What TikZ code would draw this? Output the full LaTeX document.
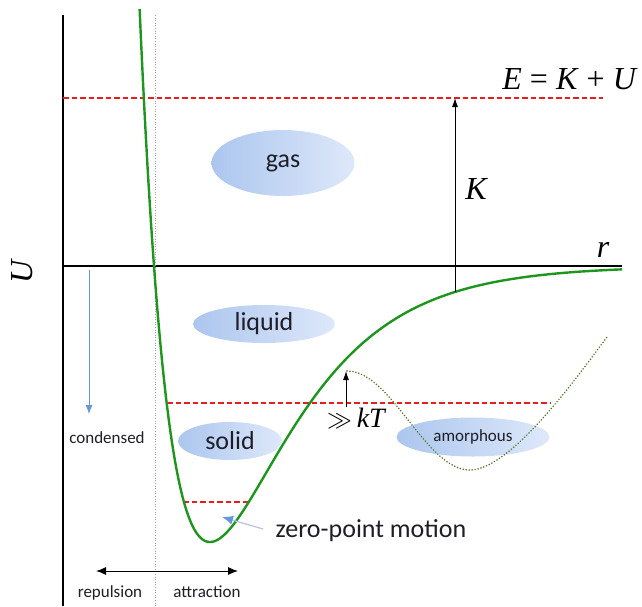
\documentclass[tikz,border=0pt]{standalone}
\usepackage{fontspec}
\setmainfont{Carlito}
\newfontfamily\tms{Liberation Serif}
\usetikzlibrary{arrows.meta,shapes.geometric}
\definecolor{gcurve}{RGB}{30,150,30}
\definecolor{rdash}{RGB}{232,30,30}
\definecolor{olivedot}{RGB}{85,110,35}
\definecolor{bllight}{RGB}{222,232,250}
\definecolor{bldark}{RGB}{172,198,238}
\definecolor{arrblue}{RGB}{100,150,220}
\definecolor{arrline}{RGB}{180,196,226}
\definecolor{txt}{RGB}{30,30,40}
\begin{document}
\begin{tikzpicture}[x=1pt,y=-1pt,
  declare function={mo(\x)=1-exp(-0.01238*(\x-210)); pot(\x)=266-276*(mo(\x)*mo(\x)-1);},
  axis/.style={line width=1.3pt,black},
  reddash/.style={rdash,line width=1.8pt,dash pattern=on 5.5pt off 3pt},
  blob/.style={ellipse,inner sep=0pt,left color=bldark,right color=bllight,draw=none,text=txt},
  big/.style={font=\fontsize{26}{30}\selectfont,text=txt},
  small/.style={font=\fontsize{17}{20}\selectfont,text=txt},
  mathl/.style={font=\fontsize{32}{36}\selectfont\tms\itshape},
]
\useasboundingbox (0,0) rectangle (642,606);
% phase blobs
\node[blob,big,minimum width=143pt,minimum height=66pt] (gas) at (283,163) {gas};
\node[blob,big,minimum width=142pt,minimum height=38pt] (liquid) at (264,324) {liquid};
\node[blob,big,minimum width=104pt,minimum height=38pt] (solid) at (230,441) {solid};
\node[blob,small,minimum width=153pt,minimum height=39pt] (amorph) at (473,437) {amorphous};
% axes
\coordinate (ytop) at (63,15);
\coordinate (ybot) at (63,606);
\coordinate (xl) at (63,266);
\coordinate (xr) at (622,266);
\draw[axis] (ytop) -- (ybot);
\draw[axis] (xl) -- (xr);
% dotted vertical
\coordinate (dtop) at (155,15);
\coordinate (dbot) at (155,606);
\draw[gray!75,line width=0.9pt,dash pattern=on 1pt off 1.6pt] (dtop) -- (dbot);
% red dashed levels
\coordinate (e1) at (63,98);   \coordinate (e2) at (603,98);
\coordinate (l1) at (167,403); \coordinate (l2) at (550,403);
\coordinate (z1) at (183,502); \coordinate (z2) at (250,502);
\draw[reddash] (e1) -- (e2);
\draw[reddash] (l1) -- (l2);
\draw[reddash] (z1) -- (z2);
% dotted amorphous curve
\draw[olivedot,line width=1.7pt,line cap=round,dash pattern=on 0pt off 3pt]
  plot[domain=347:470,samples=60] (\x,{420.5-49.5*cos(1.46341*(\x-347))})
  .. controls (510,470) and (575,380) .. (607,337);
% potential curve
\draw[gcurve,line width=2.4pt] plot[domain=139.6:622,samples=300] (\x,{pot(\x)});
% K arrow
\coordinate (kb) at (455,{pot(455)});
\coordinate (kt) at (455,98);
\draw[line width=0.8pt,-{Latex[length=9pt,width=6pt]}] (kb) -- (kt);
% kT arrow
\coordinate (tb) at (346,407);
\coordinate (tt) at (346,371);
\draw[line width=0.8pt,-{Latex[length=9pt,width=6pt]}] (tb) -- (tt);
% condensed arrow
\coordinate (cb) at (89,270);
\coordinate (ct) at (89,414);
\draw[arrblue,line width=0.8pt,-{Latex[length=9pt,width=7pt]}] (cb) -- (ct);
% zero-point arrow
\coordinate (zs) at (263,529);
\coordinate (zt) at (222,517);
\draw[arrline,line width=1.2pt,-{Latex[length=11pt,width=9pt,color=arrblue]}] (zs) -- (zt);
% repulsion / attraction arrow
\coordinate (ra) at (96,571);
\coordinate (rb) at (238,571);
\draw[line width=1pt,{Latex[length=10pt,width=8pt]}-{Latex[length=10pt,width=8pt]}] (ra) -- (rb);
% labels
\node[mathl,font=\fontsize{32}{36}\selectfont\tms] (E) at (570,79) {\textit{E} = \textit{K} + \textit{U}};
\node[mathl] (K) at (476,189) {K};
\node[mathl] (r) at (603,250) {r};
\node[mathl,rotate=90] (U) at (22,272) {U};
\node[font=\fontsize{28}{32}\selectfont] (kT) at (356,418) {$\gg$\,{\tms\itshape kT}};
\node[small,anchor=base] (cond) at (107,443) {condensed};
\node[big,anchor=base] (zpm) at (371,537) {zero-point motion};
\node[small,anchor=base] (rep) at (110,597) {repulsion};
\node[small,anchor=base] (att) at (207,597) {attraction};
\end{tikzpicture}
\end{document}
